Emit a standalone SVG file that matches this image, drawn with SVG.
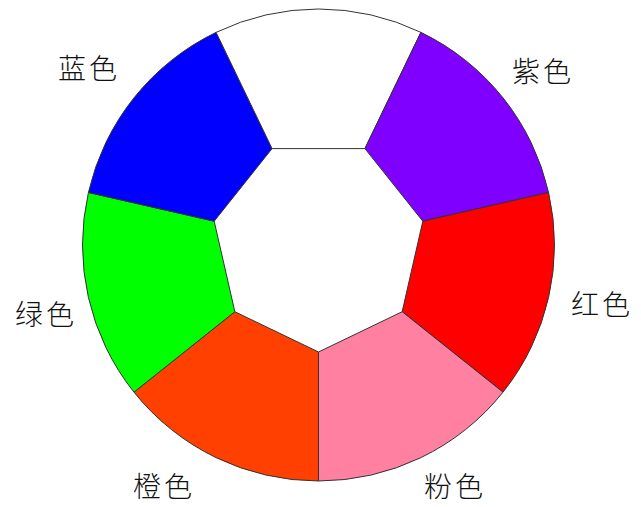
<svg xmlns="http://www.w3.org/2000/svg" width="641" height="507" viewBox="0 0 641 507">
<style>
.seg{stroke:#333;stroke-width:1;stroke-linejoin:round}
.lbl{font-family:"Noto Sans CJK SC","Noto Sans CJK JP",sans-serif;font-size:28px;font-weight:300;fill:#111;text-anchor:middle;letter-spacing:3px}
</style>
<rect width="641" height="507" fill="#fff"/>
<g id="orange"><path class="seg" fill="#FF4000" d="M318.5,352 L318.5,481 A236,236 0 0 1 133.99,392.14 L234.84,311.71 Z"/><text class="lbl" x="164" y="497">橙色</text></g>
<g id="green"><path class="seg" fill="#00FF00" d="M234.84,311.71 L133.99,392.14 A236,236 0 0 1 88.42,192.49 L214.18,221.19 Z"/><text class="lbl" x="46" y="325">绿色</text></g>
<g id="blue"><path class="seg" fill="#0000FF" d="M214.18,221.19 L88.42,192.49 A236,236 0 0 1 216.10,32.37 L272.07,148.60 Z"/><text class="lbl" x="89" y="79">蓝色</text></g>
<g id="white"><path class="seg" fill="#FFFFFF" d="M272.07,148.60 L216.10,32.37 A236,236 0 0 1 420.90,32.37 L364.93,148.60 Z"/></g>
<g id="purple"><path class="seg" fill="#8000FF" d="M364.93,148.60 L420.90,32.37 A236,236 0 0 1 548.58,192.49 L422.82,221.19 Z"/><text class="lbl" x="543" y="82">紫色</text></g>
<g id="red"><path class="seg" fill="#FF0000" d="M422.82,221.19 L548.58,192.49 A236,236 0 0 1 503.01,392.14 L402.16,311.71 Z"/><text class="lbl" x="602" y="315">红色</text></g>
<g id="pink"><path class="seg" fill="#FF80A0" d="M402.16,311.71 L503.01,392.14 A236,236 0 0 1 318.5,481 L318.5,352 Z"/><text class="lbl" x="455" y="497">粉色</text></g>
</svg>
